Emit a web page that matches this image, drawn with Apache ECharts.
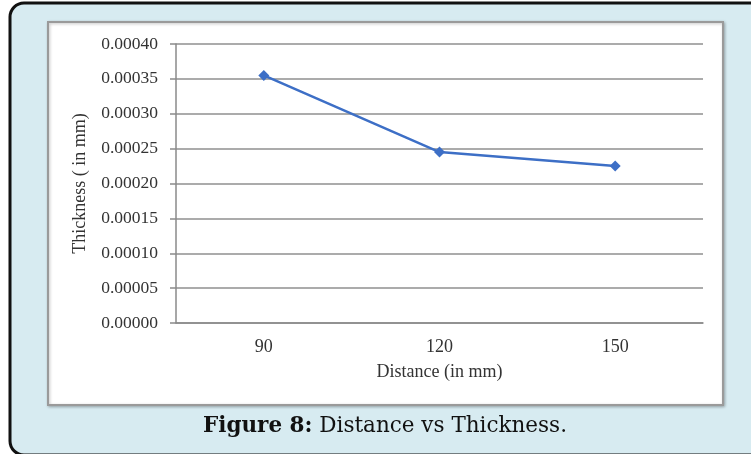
<!DOCTYPE html>
<html>
<head>
<meta charset="utf-8">
<script src="https://cdn.jsdelivr.net/npm/echarts@6/dist/echarts.min.js"></script>
<style>
html,body{margin:0;padding:0;background:#fff;}
#c{width:751px;height:454px;}
</style>
</head>
<body>
<div id="c"></div>
<script>
var categories = ['90', '120', '150'];
var thickness = [0.000355, 0.000245, 0.000225];
var yTicks = { min: 0, max: 0.0004, step: 0.00005 };
var xName = 'Distance (in mm)';
var yName = 'Thickness ( in mm)';
var captionBold = 'Figure 8:';
var captionText = ' Distance vs Thickness.';

var chart = echarts.init(document.getElementById('c'), null, {renderer: 'canvas'});
var serif = '"Liberation Serif", "Times New Roman", serif';
chart.setOption({
  animation: false,
  graphic: [
    { type: 'rect', z: -10, shape: { x: 10, y: 3, width: 780, height: 452, r: 14 },
      style: { fill: '#d7ebf1', stroke: '#111', lineWidth: 3 } },
    { type: 'rect', z: -9, shape: { x: 48, y: 22, width: 675, height: 383 },
      style: { fill: '#ffffff', stroke: '#9a9a9a', lineWidth: 2, shadowBlur: 3, shadowColor: 'rgba(0,0,0,0.25)', shadowOffsetX: 1, shadowOffsetY: 1 } },
    { type: 'text', left: 203, top: 415, z: 5,
      style: { text: '{b|' + captionBold + '}{n|' + captionText + '}',
        rich: {
          b: { fontFamily: '"DejaVu Serif", serif', fontWeight: 'bold', fontSize: 21.5, fill: '#111' },
          n: { fontFamily: '"DejaVu Serif", serif', fontSize: 21.5, fill: '#111' }
        } } }
  ],
  grid: { left: 176, right: 48, top: 44, bottom: 131 },
  xAxis: {
    type: 'category',
    data: categories,
    boundaryGap: true,
    name: xName,
    nameLocation: 'middle',
    nameGap: 40,
    nameTextStyle: { fontFamily: serif, fontSize: 18, color: '#333' },
    axisLine: { lineStyle: { color: '#8a8a8a', width: 1.5 } },
    axisTick: { show: false },
    axisLabel: { fontFamily: serif, fontSize: 18, color: '#333', margin: 15 }
  },
  yAxis: {
    type: 'value',
    min: yTicks.min, max: yTicks.max, interval: yTicks.step,
    name: yName,
    nameLocation: 'middle',
    nameGap: 87,
    nameRotate: 90,
    nameTextStyle: { fontFamily: serif, fontSize: 18, color: '#333' },
    axisLine: { show: true, lineStyle: { color: '#8a8a8a', width: 1.5 } },
    axisTick: { show: true, length: 6, lineStyle: { color: '#8a8a8a', width: 1.5 } },
    splitLine: { lineStyle: { color: '#8f8f8f', width: 1.5 } },
    axisLabel: { fontFamily: serif, fontSize: 17.5, color: '#333', margin: 18,
      formatter: function (v) { return v.toFixed(5); } }
  },
  series: [{
    type: 'line',
    data: thickness,
    symbol: 'diamond',
    symbolSize: 11,
    lineStyle: { color: '#3d6fc6', width: 2.5 },
    itemStyle: { color: '#3d6fc6' }
  }]
});
</script>
</body>
</html>
